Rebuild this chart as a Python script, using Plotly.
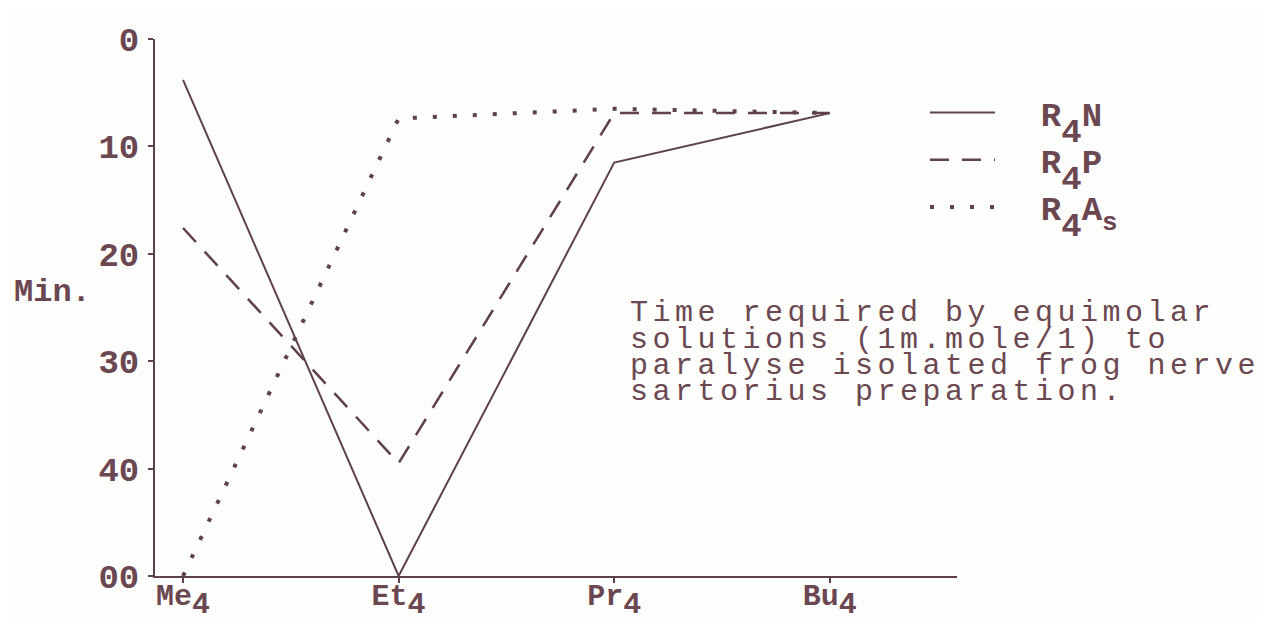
import plotly.graph_objects as go

# ---- data ----
categories = ["Me4", "Et4", "Pr4", "Bu4"]
SUB = "<span style='baseline-shift:-8px'>4</span>"
category_labels = ["Me" + SUB, "Et" + SUB, "Pr" + SUB, "Bu" + SUB]
# 50 stands for "00" (no paralysis / infinite time) at the bottom of the reversed axis
r4n = [3.8, 50, 11.5, 6.9]
r4p = [17.6, 39.5, 6.9, 6.9]
r4as = [50, 7.4, 6.5, 6.9]
y_tickvals = [0, 10, 20, 30, 40, 50]
y_ticktext = ["0", "10", "20", "30", "40", "00"]
LSUB4 = "<span style='baseline-shift:-16px'>4</span>"
LSUBS = "<span style='baseline-shift:-10px;font-size:26px'>s</span>"
series_names = ["R" + LSUB4 + "N", "R" + LSUB4 + "P", "R" + LSUB4 + "A" + LSUBS]
note_lines = [
    "Time required by equimolar",
    "solutions (1m.mole/1) to",
    "paralyse isolated frog nerve",
    "sartorius preparation.",
]

INK = "#5e4248"
TEXT = "#6b4851"
FONT = "Liberation Mono"
NB = "\u00a0\u00a0"

# page body has an 8px margin: shift everything back by 8px
OFF = 8
W, H = 1265 - 2 * OFF, 627 - 2 * OFF
L, T = 155 - OFF, 39 - OFF
PW, PH = 802, 537
R, B = W - L - PW, H - T - PH

def px_x(x):
    return (x - OFF - L) / PW

def px_y(y):
    return 1 - (y - OFF - T) / PH

fig = go.Figure()
fig.add_trace(go.Scatter(x=categories, y=r4n, mode="lines", name=NB + series_names[0],
                         legendgroup="a",
                         line=dict(color=INK, width=2, dash="solid")))
fig.add_trace(go.Scatter(x=categories, y=r4p, mode="lines", name=NB + series_names[1],
                         legendgroup="b",
                         line=dict(color=INK, width=2.5, dash="19px,13px")))
fig.add_trace(go.Scatter(x=categories, y=r4as, mode="lines", name=NB + series_names[2],
                         legendgroup="c",
                         line=dict(color=INK, width=4, dash="4px,16px")))

fig.update_layout(
    width=W, height=H,
    margin=dict(l=L, r=R, t=T, b=B, autoexpand=False),
    paper_bgcolor="#fdfdfb", plot_bgcolor="#fdfdfb",
    font=dict(family=FONT, color=TEXT, size=34),
    showlegend=True,
    legend=dict(x=px_x(925), y=px_y(84), xanchor="left", yanchor="top",
                bgcolor="rgba(0,0,0,0)",
                font=dict(family=FONT, size=34, color=TEXT, weight="bold"),
                itemwidth=65, tracegroupgap=2, traceorder="normal"),
    xaxis=dict(type="category", categoryorder="array", categoryarray=categories,
               tickvals=categories, ticktext=category_labels, automargin=False,
               range=[-0.13, 3.59], showgrid=False, zeroline=False,
               showline=True, linecolor=INK, linewidth=2,
               ticks="outside", ticklen=5, tickcolor=INK, tickwidth=2,
               ticklabelstandoff=-14,
               tickfont=dict(family=FONT, size=30, color=TEXT, weight="bold")),
    yaxis=dict(range=[50, 0], tickvals=y_tickvals, ticktext=y_ticktext, automargin=False,
               showgrid=False, zeroline=False,
               showline=True, linecolor=INK, linewidth=2,
               ticks="outside", ticklen=5, tickcolor=INK, tickwidth=2,
               ticklabelstandoff=2,
               tickfont=dict(family=FONT, size=34, color=TEXT, weight="bold")),
)

fig.add_annotation(text="Min.", xref="paper", yref="paper", x=px_x(12), y=px_y(292),
                   xanchor="left", yanchor="middle", showarrow=False,
                   font=dict(family=FONT, size=32, color=TEXT, weight="bold"))

line_y = [313, 340, 366, 392]
for txt, yy in zip(note_lines, line_y):
    fig.add_annotation(text="<span style='letter-spacing:4.5px'>" + txt + "</span>",
                       xref="paper", yref="paper",
                       x=px_x(628), y=px_y(yy),
                       xanchor="left", yanchor="middle", showarrow=False,
                       font=dict(family=FONT, size=30, color=TEXT))

fig.write_html("out.html")
